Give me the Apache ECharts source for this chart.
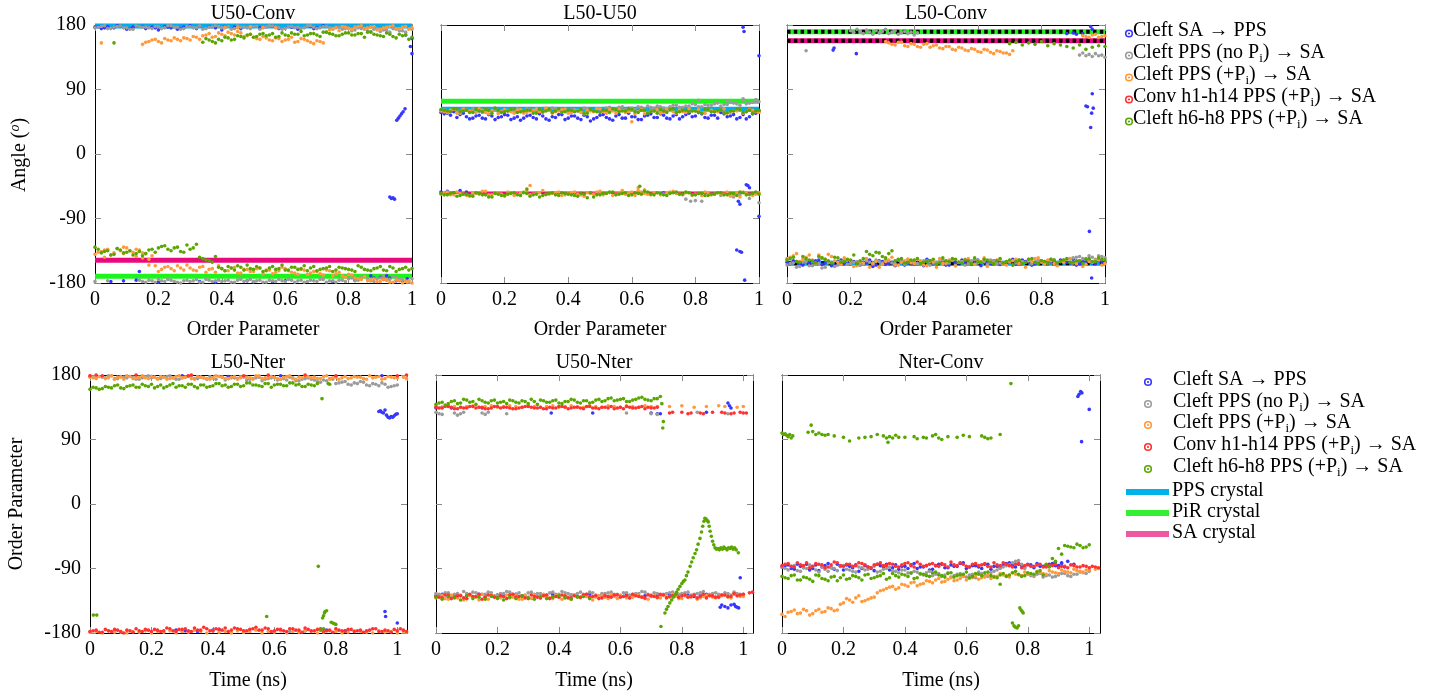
<!DOCTYPE html>
<html><head><meta charset="utf-8">
<script src="https://cdn.jsdelivr.net/npm/echarts@6/dist/echarts.min.js"></script>
<style>html,body{margin:0;padding:0;background:#fff}#c{width:1435px;height:695px}</style>
</head><body><div id="c"></div>
<script>
const N = null;
// sample times (fraction / ns)
const T = [0,0.02,0.04,0.06,0.08,0.1,0.12,0.14,0.16,0.18,0.2,0.22,0.24,0.26,0.28,0.3,0.32,0.34,0.36,0.38,0.4,0.42,0.44,0.46,0.48,0.5,0.52,0.54,0.56,0.58,0.6,0.62,0.64,0.66,0.68,0.7,0.72,0.74,0.76,0.78,0.8,0.82,0.84,0.86,0.88,0.9,0.92,0.94,0.96,0.98,1];
const T2 = [0.01,0.03,0.05,0.07,0.09,0.11,0.13,0.15,0.17,0.19,0.21,0.23,0.25,0.27,0.29,0.31,0.33,0.35,0.37,0.39,0.41,0.43,0.45,0.47,0.49,0.51,0.53,0.55,0.57,0.59,0.61,0.63,0.65,0.67,0.69,0.71,0.73,0.75,0.77,0.79,0.81,0.83,0.85,0.87,0.89,0.91,0.93,0.95,0.97,0.99];

const panelTitles = ['U50-Conv','L50-U50','L50-Conv','L50-Nter','U50-Nter','Nter-Conv'];
const xTickLabels = ['0','0.2','0.4','0.6','0.8','1'];
const legendTexts = ['{a|Cleft SA → PPS}','{a|Cleft PPS (no P}{s|i}{a|) → SA}','{a|Cleft PPS (+P}{s|i}{a|) → SA}','{a|Conv h1-h14 PPS (+P}{s|i}{a|) → SA}','{a|Cleft h6-h8 PPS (+P}{s|i}{a|) → SA}'];
const crystalNames = ['PPS crystal','PiR crystal','SA crystal'];

// ---------- Panel 1: U50-Conv ----------
const p1BlueTop = [177,175,178,176,179,174,177,178,175,177,173,178,176,174,177,179,175,N,178,176,173,N,177,175,N,178,176,N,179,175,N,177,174,N,178,176,179,N,N,N,N,N,N,N,N,N,N,N,N,166,161];
const p1BlueX = [[0.952,47],[0.957,50],[0.962,53],[0.967,56],[0.972,59],[0.978,63],[0.93,-60],[0.935,-62],[0.94,-61],[0.945,-63],[1.0,140],[0.995,150],[0.05,-178],[0.09,-177],[0.13,-176],[0.2,-179],[0.33,-178],[0.38,-179],[0.48,-177],[0.5,-179],[0.56,-178],[0.6,-177],[0.75,-178],[0.82,-176],[0.87,-170],[0.88,-173],[0.9,-172],[0.91,-175],[0.92,-170],[0.93,-173],[0.95,-177],[0.97,-178],[0.985,-174],[0.14,-164],[0.01,178],[0.03,176],[0.07,179],[0.11,175],[0.15,178],[0.19,176],[0.23,177],[0.27,175],[0.41,178],[0.53,177],[0.61,178],[0.69,175]];
const p1GrayTop = [176,178,175,177,179,176,174,178,177,175,178,176,179,177,175,178,176,174,177,179,176,178,175,177,176,178,174,177,179,176,175,178,177,176,179,175,178,176,177,174,176,173,175,172,174,171,173,175,172,170,174];
const p1GrayTop2 = [177,179,175,178,176,174,179,177,176,178, 175,179,177,174,178,176,179,175,177,178, 176,174,179,177,175,178,176,179,177,174, 178,176,175,179,177,176,178,174,177,175, 172,176,174,171,175,173,170,174,172,175];
const p1GrayBot = [-178,N,-177,N,N,N,N,-176,-179,-177,-175,-178,-176,-179,-177,-178,-175,-179,-176,-177,-178,-176,-179,-175,-177,-178,-176,-179,-177,-175,-178,-176,-177,-179,-176,-178,-175,-177,-179,-176,-174,-177,-172,-175,-178,-173,-176,-171,-175,-177,-174];
const p1GrayBot2 = [N,N,N,N,N,N,N,-178,-176,-179, -177,-175,-178,-180,-176,-177,-179,-175,-178,-176, -177,-179,-176,-178,-175,-177,-179,-176,-178,-177, -175,-179,-176,-178,-177,-175,-179,-177,-176,-178, -173,-176,-171,-177,-174,-170,-175,-172,-176,-178];
const p1OrangeTop = [N,155,N,N,N,N,N,N,156,159,157,161,158,160,162,159,163,165,168,164,167,170,166,169,165,163,160,162,158,161,159,163,157,160,156,158,155,173,176,178,175,177,179,176,178,174,177,179,175,178,176];
const p1OrangeTop2 = [N,N,N,N,N,N,N,153,157,160, 155,159,162,158,161,164,160,166,163,169, 165,168,171,164,167,161,164,159,162,157, 160,156,161,158,154,157,170,175,172,177, 174,178,175,177,173,176,178,175,177,174];
const p1OrangeBot = [-140,-136,-133,-138,-135,-131,-137,-134,-139,-142,-164,-158,-160,-156,-162,-159,-163,-157,-161,-165,-160,-163,-158,-166,-161,-164,-159,-162,-167,-163,-160,-165,-168,-162,-166,-164,-169,-163,-167,-170,-168,-173,-175,-177,-174,-178,-176,-179,-177,-178,-180];
const p1OrangeBot2 = [-137,-134,-141,-132,-139,-135,-143,-138,-147,-156, -161,-157,-163,-159,-155,-162,-158,-165,-160,-156, -163,-159,-166,-161,-164,-160,-167,-162,-165,-158, -163,-166,-161,-168,-164,-167,-162,-170,-165,-172, -169,-174,-171,-176,-178,-175,-179,-176,-180,-177];
const p1OrangeX = [[0.41,177],[0.45,176],[0.49,178],[0.53,177],[0.57,176],[0.15,-145],[0.17,-155],[0.03,-144],[0.09,-130],[0.13,-133]];
const p1GreenTop = [N,N,N,155,N,N,N,N,N,N,N,N,N,N,N,N,N,156,159,155,158,162,160,164,166,163,167,165,168,164,166,169,167,165,168,166,170,168,165,167,169,166,168,170,167,165,169,164,167,166,163];
const p1GreenTop2 = [N,N,N,N,N,N,N,N,N,N, N,N,N,N,N,N,N,161,157,160, 163,159,165,162,167,164,168,166,163,169, 165,167,171,166,168,164,170,167,165,169, 166,168,163,170,166,164,167,162,165,160];
const p1GreenBot = [-130,-138,-135,-140,-134,-137,-141,-136,-139,-133,-131,-128,-135,-130,-137,-133,-126,-146,-149,-143,-160,-157,-162,-158,-155,-161,-159,-163,-157,-160,-162,-158,-161,-156,-159,-163,-160,-157,-162,-159,-161,-164,-158,-162,-160,-157,-163,-159,-161,-158,-160];
const p1GreenBot2 = [-133,-136,-141,-132,-138,-135,-139,-142,-134,-137, -129,-133,-131,-136,-127,-131,-144,-148,-151,-158, -163,-159,-156,-162,-160,-157,-164,-159,-161,-155, -162,-158,-160,-163,-157,-161,-159,-164,-158,-160, -162,-156,-161,-163,-159,-162,-157,-164,-160,-162];
const p1Crystals = [178.5, -170.6, -148.3]; // PPS, PiR, SA

// ---------- Panel 2: L50-U50 ----------
const p2BlueUp = [58,57,59,55,52,50,54,49,53,51,55,48,52,50,54,49,53,47,51,55,50,53,48,52,49,54,51,47,55,50,52,48,53,56,51,54,49,55,52,57,53,56,50,54,58,52,55,51,49,56,60];
const p2BlueUp2 = [56,54,51,57,49,53,50,55,48,52, 54,50,47,53,51,56,49,52,55,48, 53,50,54,46,51,55,49,53,50,57, 52,48,54,51,56,50,53,49,55,52, 58,51,54,50,56,53,49,55,52,57];
const p2BlueX = [[0.95,177],[0.953,171],[1.0,137],[0.93,-134],[0.94,-136],[0.945,-137],[0.955,-176],[1.0,-87],[0.935,-66],[0.94,-70],[0.96,-43],[0.965,-44],[0.97,-47],[0,-53],[0.02,-52],[0.04,-54],[0.06,-51],[0.08,-53],[0.5,-55],[0.7,-54]];
const p2GrayUp = [61,60,62,59,61,63,60,62,61,59,62,60,63,61,62,60,59,61,63,62,60,62,61,63,60,62,64,63,65,62,64,66,63,65,67,64,66,68,65,67,69,66,68,70,67,69,71,68,70,72,73];
const p2GrayUp2 = [62,59,61,63,60,62,58,61,63,60, 61,62,59,63,61,60,62,64,61,63, 62,60,64,62,63,61,65,63,66,64, 62,65,67,64,66,63,68,65,67,70, 66,69,68,71,69,72,70,74,71,73];
const p2GrayX = [[0.77,-63],[0.785,-66],[0.8,-65],[0.82,-66],[0.88,-58],[0.92,-60],[0.94,-57],[0.97,-62],[1.0,-68],[0.5,-55],[0.3,-54],[0.1,-56],[0.81,75],[0.9,74],[0.95,77],[0.99,76]];
const p2OrangeUp = [60,58,62,57,61,59,63,58,60,56,62,59,61,57,60,63,58,61,59,62,57,60,58,61,59,63,57,60,62,58,61,59,56,60,62,58,61,57,59,63,60,58,62,59,61,57,60,62,59,61,58];
const p2OrangeUp2 = [59,61,57,62,60,58,61,56,63,59, 60,57,62,58,61,59,64,57,60,62, 58,61,56,60,63,59,62,57,61,59, 56,62,58,60,57,63,59,61,58,60, 62,57,61,59,63,58,60,57,62,59];
const p2OrangeLow = [-56,-53,-57,-55,-58,-54,-56,-52,-57,-55,-59,-54,-56,-53,-57,-55,-51,-56,-54,-58,-55,-53,-57,-54,-56,-52,-55,-58,-54,-56,-53,-51,-55,-57,-54,-56,-53,-55,-57,-54,-56,-58,-54,-56,-55,-53,-57,-60,-55,-58,-54];
const p2OrangeLow2 = [-54,-57,-53,-56,-59,-55,-52,-57,-54,-56, -53,-58,-55,-52,-56,-54,-57,-55,-53,-57, -54,-56,-59,-55,-53,-57,-54,-56,-51,-55, -58,-53,-56,-54,-57,-55,-52,-56,-54,-58, -55,-53,-57,-54,-56,-59,-55,-53,-57,-56];
const p2OrangeX = [[0.28,-44],[0.62,-47],[0.64,-50],[0.6,45]];
const p2GreenUp = [62,60,63,59,61,58,60,62,57,61,59,62,58,60,61,57,59,62,60,58,61,59,62,57,60,58,61,63,59,60,62,58,61,59,57,60,62,58,61,59,60,57,62,59,61,58,60,62,59,57,61];
const p2GreenUp2 = [61,59,63,60,58,62,59,61,64,58, 60,63,59,61,57,62,60,58,63,59, 61,60,57,62,59,61,58,62,60,63, 59,61,57,60,62,58,63,59,61,60, 58,62,59,61,57,60,63,58,61,60];
const p2GreenLow = [-55,-57,-54,-58,-56,-59,-55,-57,-60,-56,-58,-55,-57,-54,-59,-56,-58,-55,-57,-54,-56,-58,-55,-61,-60,-57,-55,-53,-56,-54,-57,-55,-52,-56,-54,-57,-55,-53,-56,-54,-57,-55,-58,-56,-54,-57,-55,-53,-57,-55,-56];
const p2GreenLow2 = [-57,-55,-59,-56,-58,-54,-57,-60,-55,-58, -56,-54,-58,-55,-57,-60,-56,-54,-58,-55, -57,-59,-56,-54,-57,-55,-53,-57,-55,-58, -54,-56,-53,-57,-55,-58,-54,-56,-53,-57, -55,-58,-56,-54,-57,-55,-58,-54,-56,-53];
const p2GreenX = [[0.625,-45],[0.27,-49]];
const p2Crystals = [62.4, 73.5, -54];

// ---------- Panel 3: L50-Conv ----------
const p3BlueBot = [-151,-149,-153,-150,-155,-148,-152,-156,-150,-153,-149,-154,-151,-148,-155,-150,-153,-156,-149,-152,-154,-150,-147,-153,-151,-155,-149,-152,-150,-154,-148,-151,-153,-149,-152,-150,-154,-148,-151,-153,-149,-152,-150,-148,-151,-147,-153,-150,-152,-149,-151];
const p3BlueBot2 = [-153,-150,-155,-152,-149,-154,-151,-156,-148,-153, -150,-155,-152,-157,-149,-154,-151,-148,-155,-150, -153,-156,-149,-152,-150,-155,-151,-148,-153,-150, -156,-152,-149,-154,-151,-147,-153,-150,-155,-149, -152,-150,-154,-149,-152,-155,-150,-148,-153,-150];
const p3BlueX = [[0.145,145],[0.148,148],[0.218,140],[0.88,168],[0.9,169],[0.91,167],[0.93,168],[0.955,178],[0.96,174],[0.94,67],[0.945,66],[0.96,84],[0.963,64],[0.958,57],[0.955,37],[0.951,-108],[0.958,-173]];
const p3GrayX = [[0.06,144],[0.2,172],[0.21,170],[0.22,174],[0.23,171],[0.24,168],[0.25,173],[0.26,170],[0.27,167],[0.28,172],[0.29,169],[0.3,171],[0.31,174],[0.32,168],[0.33,170],[0.34,172],[0.35,167],[0.36,169],[0.37,171],[0.38,168],[0.39,170],[0.4,166],[0.41,169],[0.92,138],[0.93,141],[0.94,137],[0.95,139],[0.96,136],[0.97,140],[0.98,137],[0.99,138],[1.0,135]];
const p3GrayBot = [-155,-152,-157,-150,-156,-153,-158,-151,-155,-149,-153,-150,-154,-151,-148,-152,-149,-153,-150,-147,-151,-154,-149,-152,-150,-153,-148,-151,-155,-149,-152,-150,-148,-153,-151,-149,-152,-150,-147,-151,-149,-152,-148,-150,-147,-145,-143,-146,-144,-142,-145];
const p3GrayBot2 = [-153,-158,-151,-156,-154,-159,-152,-157,-150,-154, -151,-155,-149,-153,-150,-147,-152,-148,-154,-150, -153,-149,-155,-151,-148,-152,-156,-150,-153,-147, -151,-154,-149,-152,-150,-155,-148,-151,-153,-149, -150,-147,-151,-148,-146,-144,-146,-142,-147,-143];
const p3OrangeTop = [N,N,N,N,N,N,N,N,N,N,N,N,N,N,N,N,155,152,156,150,153,149,154,151,148,150,146,149,145,147,143,146,142,144,141,139,N,N,N,N,N,N,N,N,N,N,N,164,166,163,165];
const p3OrangeTop2 = [N,N,N,N,N,N,N,N,N,N, N,N,N,N,N,157,153,156,151,154, 150,153,149,152,147,150,145,148,144,146, 142,145,140,143,141,144,N,N,N,N, N,N,N,N,N,N,165,163,167,164];
const p3OrangeBot = [-146,-142,-150,-144,-148,-141,-147,-143,-151,-145,-149,-156,-152,-158,-150,-154,-148,-155,-151,-147,-153,-149,-156,-150,-146,-152,-148,-151,-147,-153,-149,-145,-151,-148,-154,-150,-147,-152,-149,-146,-151,-148,-153,-150,-147,-152,-149,-154,-151,-148,-153];
const p3OrangeBot2 = [-144,-139,-147,-141,-152,-145,-140,-149,-154,-148, -157,-151,-146,-153,-158,-150,-144,-155,-149,-152, -147,-155,-150,-158,-153,-148,-156,-151,-146,-154, -150,-157,-152,-147,-155,-149,-153,-158,-150,-145, -154,-149,-156,-151,-146,-153,-157,-150,-148,-155];
const p3GreenTop = [N,N,N,N,N,N,N,N,N,N,N,N,N,N,N,N,N,N,N,N,N,N,N,N,N,N,N,N,N,N,N,N,N,N,N,154,156,152,155,153,157,151,154,152,150,148,152,146,149,151,150];
const p3GreenBot = [-148,-144,-151,-146,-149,-143,-147,-152,-145,-150,-148,-153,-146,-140,-137,-143,-139,-149,-146,-151,-148,-153,-150,-147,-152,-149,-146,-151,-148,-153,-150,-147,-151,-149,-152,-148,-150,-153,-147,-151,-149,-152,-148,-150,-146,-151,-149,-147,-150,-145,-148];
const p3GreenBot2 = [-146,-150,-143,-148,-152,-145,-149,-144,-151,-147, -141,-149,-136,-142,-138,-145,-135,-147,-152,-148, -146,-151,-149,-154,-145,-150,-147,-152,-149,-145, -151,-148,-153,-146,-150,-155,-148,-151,-146,-153, -150,-147,-152,-148,-151,-149,-153,-146,-150,-147];
const p3Crystals = [-152.5, 170.7, 158];

// ---------- Panel 4: L50-Nter ----------
const p4BlueX = [[0.3,179],[0.45,178],[0.62,179],[0.8,178],[0.95,179],[0.2,178],[0.94,129],[0.945,130],[0.95,128],[0.955,127],[0.96,131],[0.965,124],[0.97,121],[0.975,120],[0.98,122],[0.985,121],[0.99,123],[0.995,125],[1.0,126],[0.96,-150],[0.962,-157],[1.0,-166],[0.28,-176],[0.31,-177],[0.4,-176],[0.42,-175],[0.6,-178],[0.7,-177],[0.77,-176],[0.83,-177],[0.9,-178],[0.35,-178]];
const p4GrayTop = [178,176,177,179,175,178,176,177,174,178,176,175,177,179,174,176,178,175,177,174,176,178,173,176,175,177,174,176,172,175,177,174,173,176,172,175,174,171,173,175,168,170,167,169,171,166,168,165,167,164,166];
const p4GrayTop2 = [177,178,176,179,175,177,178,174,176,179, 177,175,178,176,174,177,179,175,176,178, 174,177,175,176,178,173,175,177,174,176, 173,175,177,172,174,176,173,170,172,174, 169,171,166,168,170,165,167,169,163,165];
const p4GrayX = [[0.1,-179],[0.3,-178],[0.5,-179],[0.65,-178]];
const p4OrangeTop = [177,175,178,176,174,177,179,175,177,176,178,174,177,175,178,176,179,174,177,175,176,178,175,177,174,178,176,179,175,177,176,174,178,175,177,179,176,175,178,174,177,176,175,178,177,174,176,178,175,177,176];
const p4OrangeTop2 = [176,178,175,179,177,174,178,176,179,175, 177,178,174,176,179,177,175,178,176,174, 179,177,175,178,176,177,174,179,176,178, 175,177,179,174,176,178,177,175,179,176, 174,178,176,177,175,179,177,174,178,176];
const p4OrangeBot = [-179,-178,-180,-177,-179,-178,-180,-178,-179,-177,-180,-178,-179,-177,-180,-178,-179,-176,-178,-180,-177,-179,-178,-180,-177,-179,-178,-176,-180,-178,-179,-177,-180,-178,-179,-177,-178,-180,-179,-177,-178,-180,-179,-177,-178,-179,-180,-177,-179,-178,-180];
const p4OrangeX = [[1.02,177],[1.03,175],[1.02,-178],[1.03,-179]];
const p4RedBot = [-178,-176,-179,-177,-175,-178,-176,-179,-177,-175,-178,-176,-177,-174,-178,-175,-177,-173,-176,-174,-177,-175,-173,-176,-174,-177,-175,-172,-176,-174,-177,-175,-178,-174,-176,-173,-177,-175,-178,-176,-174,-177,-175,-178,-176,-177,-174,-178,-176,-179,-177];
const p4RedBot2 = [-177,-179,-175,-178,-176,-180,-177,-174,-178,-176, -175,-178,-173,-177,-175,-174,-178,-176,-172,-177, -174,-176,-178,-173,-175,-177,-174,-176,-173,-178, -175,-177,-174,-176,-179,-175,-177,-174,-177,-179, -176,-178,-175,-177,-179,-176,-174,-178,-177,-175];
const p4RedX = [[1.02,-176],[1.03,-178],[1.01,-174],[0.0,179],[0.02,180],[0.04,179],[0.32,179],[0.33,180],[0.5,179],[0.58,180],[0.8,179],[1.0,179],[1.03,180],[0.15,180],[0.7,180]];
const p4GreenTop = [160,162,161,163,165,162,164,166,163,165,167,164,162,166,163,165,167,164,166,163,165,168,166,164,167,165,169,166,164,168,166,167,165,169,167,164,166,168,N,N,N,N,N,N,N,N,N,N,N,N,N];
const p4GreenTop2 = [163,160,164,162,166,161,165,163,167,164, 162,166,164,168,165,163,167,162,166,164, 168,165,163,167,164,169,166,165,168,163, 167,165,169,166,164,167,165,N,N,N, N,N,N,N,N,N,N,N,N,N];
const p4GreenX = [[0.775,168],[0.78,167],[0.755,147],[0.743,-87],[0.011,-155],[0.022,-155],[0.575,-157],[0.757,-159],[0.76,-156],[0.763,-152],[0.765,-150],[0.77,-149],[0.785,-165],[0.79,-166],[0.795,-167],[0.8,-168],[0.75,-176],[0.76,-174]];

// ---------- Panel 5: U50-Nter ----------
const p5BlueBot = [-128,-126,-129,-127,N,-128,N,-126,-129,N,-127,-128,N,-126,-129,N,-127,N,-128,-126,N,-129,-127,N,-128,-126,N,-127,-129,-128,N,-126,-127,N,-128,-129,-127,N,-126,-128,N,-127,-129,-128,-126,N,-127,-143,-141,-144,N];
const p5BlueX = [[0.93,-141],[0.95,-145],[0.97,-140],[0.975,-143],[0.985,-145],[0.99,-103],[0.925,-144],[0.0,134],[0.02,135],[0.05,134],[0.1,135],[0.15,134],[0.375,127],[0.51,127],[0.7,127],[0.72,126],[0.73,126],[0.88,128],[0.95,141],[0.955,137],[0.96,134]];
const p5GrayBot = [-125,-127,-124,-126,-128,-125,-123,-127,-126,-124,-127,-125,-123,-126,-128,-124,-126,-125,-127,-123,-126,-124,-127,-125,-126,-123,-127,-125,-124,-126,-128,-124,-126,-125,-123,-127,-125,-126,-124,-127,-125,-123,-126,-124,-127,-125,-126,-124,-127,-125,-126];
const p5GrayBot2 = [-126,-124,-128,-125,-122,-127,-124,-126,-123,-128, -125,-122,-126,-124,-127,-123,-125,-128,-124,-126, -122,-125,-127,-123,-126,-124,-128,-125,-123,-126, -124,-127,-125,-122,-126,-124,-128,-125,-123,-126, -124,-127,-125,-122,-126,-124,-127,-125,-123,-126];
const p5GrayX = [[0.0,128],[0.01,126],[0.02,125],[0.06,127],[0.07,124],[0.08,126],[0.09,128],[0.15,127],[0.16,125],[0.17,128],[0.23,126],[0.62,127],[0.7,126],[0.72,125],[0.95,126],[0.85,128]];
const p5OrangeTop = [136,135,137,136,135,136,137,135,136,137,135,136,137,136,135,137,136,135,136,137,135,136,137,136,135,137,136,135,137,136,135,137,136,135,137,136,136,N,136,N,137,N,135,N,136,N,137,136,N,135,136];
const p5OrangeBot = [-131,-128,-133,-130,-127,-132,-129,-134,-130,-127,-132,-129,-131,-128,-133,-130,-127,-131,-129,-132,-128,-130,-133,-129,-127,-131,-130,-128,-132,-129,-127,-131,-130,-128,-132,-129,-131,-127,-130,-128,-132,-129,-127,-131,-128,-130,-129,-127,-131,-128,-129];
const p5OrangeBot2 = [-129,-132,-127,-131,-134,-128,-130,-126,-133,-129, -131,-127,-130,-133,-128,-132,-129,-126,-131,-128, -133,-130,-127,-131,-129,-134,-128,-130,-126,-132, -129,-131,-127,-130,-133,-128,-131,-129,-126,-132, -128,-130,-133,-129,-127,-131,-128,-130,-126,-129];
const p5RedTop = [135,134,136,133,135,134,136,135,133,134,136,135,134,133,135,136,134,135,133,134,136,135,134,135,133,136,134,135,134,133,135,136,134,135,133,134,135,N,127,N,128,126,N,127,N,128,N,127,126,N,127];
const p5RedTop2 = [134,136,135,133,134,136,134,135,133,136, 134,135,133,134,136,135,134,133,135,134, 136,133,135,134,136,134,133,135,136,134, 133,135,134,136,135,134,N,N,128,N, N,127,N,126,N,N,128,N,127,N];
const p5RedBot = [-129,-131,-127,-130,-128,-132,-129,-126,-130,-128,-131,-129,-127,-130,-128,-132,-129,-131,-127,-129,-130,-128,-131,-129,-127,-130,-128,-131,-129,-127,-130,-128,-126,-129,-131,-128,-130,-127,-129,-126,-128,-130,-127,-129,-131,-128,-130,-127,-129,-128,-126];
const p5RedBot2 = [-130,-127,-132,-128,-131,-126,-129,-133,-127,-130, -128,-132,-126,-129,-131,-127,-130,-128,-132,-129, -127,-131,-128,-130,-126,-129,-132,-128,-130,-127, -129,-131,-128,-130,-127,-129,-126,-131,-128,-130, -127,-129,-131,-126,-128,-130,-127,-129,-125,-127];
const p5RedX = [[1.02,-124],[1.03,-123],[1.01,127],[0.99,128]];
const p5GreenTop = [139,142,140,144,141,145,143,146,142,144,141,143,145,142,144,140,143,145,142,144,141,143,146,142,144,141,145,143,147,144,146,143,145,148,146,144,147,N,N,N,N,N,N,N,N,N,N,N,N,N,N];
const p5GreenTop2 = [141,138,143,140,146,142,139,144,141,145, 142,140,144,141,143,146,139,144,142,145, 140,143,145,141,144,142,146,144,148,145, 147,143,146,149,145,147,N,N,N,N, N,N,N,N,N,N,N,N,N,N];
const p5GreenBot = [-130,-133,-129,-131,-134,-128,-132,-130,-133,-129,-131,-134,-130,-132,-128,-131,-133,-129,-132,-130,-128,-131,-133,-130,-129,-132,N,N,N,N,N,N,N,N,N,N,N,N,N,N,N,N,N,N,N,N,N,N,N,N,N];
const p5GreenX = [[0.73,150],[0.735,140],[0.74,115],[0.738,106],[0.732,-171],[0.745,-152],[0.75,-147],[0.755,-143],[0.761,-138],[0.767,-134],[0.772,-130],[0.778,-127],[0.783,-123],[0.788,-119],[0.794,-115],[0.8,-111],[0.805,-108],[0.81,-106],[0.815,-100],[0.82,-95],[0.827,-87],[0.832,-81],[0.837,-75],[0.843,-69],[0.848,-64],[0.853,-56],[0.859,-48],[0.864,-39],[0.868,-31],[0.872,-24],[0.875,-20],[0.879,-21],[0.883,-23],[0.886,-25],[0.889,-31],[0.892,-38],[0.896,-45],[0.9,-52],[0.904,-57],[0.908,-61],[0.913,-63],[0.918,-62],[0.922,-64],[0.927,-61],[0.932,-63],[0.937,-60],[0.942,-62],[0.947,-64],[0.952,-61],[0.957,-62],[0.962,-60],[0.967,-63],[0.972,-61],[0.977,-64],[0.984,-68]];

// ---------- Panel 6: Nter-Conv ----------
const p6BlueMid = [-88,-85,-91,-87,-84,-90,-93,-86,-89,-84,-92,-87,-85,-90,-88,-93,-86,-84,-89,-91,-87,-85,-90,-88,-92,-86,-84,-89,-87,-83,-90,-86,-88,-84,-91,-87,-85,-82,-88,-86,-84,-89,-87,-85,-83,-86,-88,N,N,N,N];
const p6BlueMid2 = [-86,-90,-84,-89,-92,-85,-88,-83,-91,-87, -85,-89,-94,-86,-90,-84,-88,-92,-85,-87, -90,-83,-88,-86,-91,-84,-89,-85,-87,-82, -88,-86,-90,-84,-87,-89,-83,-86,-84,-88, -85,-83,-87,-84,-86,-82,N,N,N,N];
const p6BlueX = [[0.963,150],[0.967,153],[0.972,157],[0.976,155],[1.0,132],[0.975,87],[0.89,-81],[0.91,-83],[0.93,-80],[0.95,-84]];
const p6GrayMid = [-88,-92,-86,-94,-90,-87,-95,-91,-89,-93,-86,-92,-95,-89,-91,-87,-94,-90,-93,-96,-92,-97,-95,-99,-94,-98,-101,-96,-100,-97,-102,-98,-95,-100,-96,-92,-88,-85,-80,-84,-98,-101,-97,-100,-102,-99,-97,-101,-98,-96,-94];
const p6GrayMid2 = [-90,-87,-93,-89,-85,-92,-88,-94,-90,-87, -91,-94,-88,-92,-89,-95,-91,-88,-94,-92, -96,-94,-98,-96,-100,-97,-99,-102,-98,-101, -99,-103,-97,-101,-94,-90,-86,-82,-79,-90, -100,-98,-102,-99,-101,-97,-100,-98,-95,-97];
const p6Orange = [-154,-151,-148,-152,-149,-153,-147,-150,-146,-148,-138,-134,-131,-136,-133,-130,-121,-118,-115,-117,-113,-110,-114,-111,-108,-106,-109,-105,-107,-104,-106,-103,-105,-102,-104,-101,-99,-102,-98,-100,-97,-99,-96,-98,-95,-97,-94,-96,-93,-95,-92];
const p6Orange2 = [-157,-150,-153,-147,-155,-149,-151,-145,-149,-140, -132,-137,-128,-135,-131,-124,-120,-116,-119,-112, -115,-109,-112,-107,-110,-104,-108,-103,-106,-101, -104,-100,-103,-99,-101,-97,-100,-96,-99,-95, -98,-94,-97,-93,-96,-92,-95,-91,-94,-92];
const p6OrangeX = [[1.02,-91],[1.03,-90]];
const p6RedMid = [-86,-83,-88,-85,-82,-87,-84,-89,-85,-82,-87,-84,-86,-83,-88,-85,-82,-86,-84,-88,-83,-86,-81,-87,-84,-86,-83,-88,-85,-82,-87,-84,-86,-83,-88,-85,-82,-86,-84,-89,-85,-87,-84,-88,-86,-89,-87,-85,-88,-86,-89];
const p6RedMid2 = [-84,-87,-82,-86,-89,-83,-85,-88,-81,-86, -84,-87,-82,-85,-89,-84,-86,-83,-87,-85, -82,-88,-84,-86,-83,-87,-85,-81,-86,-84, -88,-83,-85,-87,-82,-86,-84,-88,-83,-86, -87,-85,-88,-86,-84,-87,-89,-86,-88,-87];
const p6RedX = [[1.02,-88],[1.03,-89],[1.01,-87]];
const p6GreenBot = [-101,-104,-99,-106,-103,-108,-100,-105,-102,-107,-99,-104,-101,-106,-98,-103,-100,-105,-97,-102,-99,-96,-103,-98,-101,-95,-100,-97,-102,-99,-95,-101,-98,-96,-100,-103,-97,-99,-94,-101,-96,-98,-93,-84,-76,-62,-58,-60,-56,-61,-57];
const p6GreenBot2 = [-103,-100,-106,-102,-105,-99,-104,-107,-101,-103, -105,-100,-103,-99,-104,-101,-97,-103,-100,-98, -101,-104,-97,-100,-96,-99,-102,-96,-100,-98, -103,-97,-100,-95,-102,-99,-101,-96,-98,-100, -97,-95,-99,-88,-80,-70,-59,-61,-58,-60];
const p6GreenX = [[0.0,99],[0.005,97],[0.01,98],[0.015,96],[0.02,94],[0.025,97],[0.03,92],[0.035,95],[0.085,100],[0.095,110],[0.1,101],[0.11,97],[0.12,99],[0.13,97],[0.14,96],[0.15,97],[0.17,95],[0.2,93],[0.22,88],[0.25,92],[0.27,93],[0.29,94],[0.31,97],[0.33,95],[0.34,92],[0.345,86],[0.35,94],[0.36,92],[0.37,96],[0.38,93],[0.4,93],[0.43,94],[0.44,91],[0.46,93],[0.47,92],[0.49,95],[0.5,97],[0.51,92],[0.52,90],[0.54,94],[0.57,93],[0.59,96],[0.61,94],[0.65,95],[0.66,93],[0.67,91],[0.68,92],[0.71,97],[0.745,168],[0.75,-166],[0.755,-170],[0.76,-172],[0.765,-173],[0.77,-170],[0.774,-145],[0.778,-148],[0.782,-150],[0.785,-152],[0.71,-112]];

// ---------- assembly ----------
function pts(ys, t) { const o = []; for (let i = 0; i < ys.length && i < t.length; i++) { if (ys[i] !== null) o.push([t[i], ys[i]]); } return o; }
function cat() { return [].concat.apply([], arguments); }

const panelSeries = [
  { blue: cat(pts(p1BlueTop,T), p1BlueX),
    gray: cat(pts(p1GrayTop,T), pts(p1GrayTop2,T2), pts(p1GrayBot,T), pts(p1GrayBot2,T2)),
    orange: cat(pts(p1OrangeTop,T), pts(p1OrangeTop2,T2), pts(p1OrangeBot,T), pts(p1OrangeBot2,T2), p1OrangeX), red: [],
    green: cat(pts(p1GreenTop,T), pts(p1GreenTop2,T2), pts(p1GreenBot,T), pts(p1GreenBot2,T2)) },
  { blue: cat(pts(p2BlueUp,T), pts(p2BlueUp2,T2), p2BlueX),
    gray: cat(pts(p2GrayUp,T), pts(p2GrayUp2,T2), p2GrayX),
    orange: cat(pts(p2OrangeUp,T), pts(p2OrangeUp2,T2), pts(p2OrangeLow,T), pts(p2OrangeLow2,T2), p2OrangeX), red: [],
    green: cat(pts(p2GreenUp,T), pts(p2GreenUp2,T2), pts(p2GreenLow,T), pts(p2GreenLow2,T2), p2GreenX) },
  { blue: cat(pts(p3BlueBot,T), pts(p3BlueBot2,T2), p3BlueX),
    gray: cat(pts(p3GrayBot,T), pts(p3GrayBot2,T2), p3GrayX),
    orange: cat(pts(p3OrangeTop,T), pts(p3OrangeTop2,T2), pts(p3OrangeBot,T), pts(p3OrangeBot2,T2)), red: [],
    green: cat(pts(p3GreenTop,T), pts(p3GreenBot,T), pts(p3GreenBot2,T2)) },
  { blue: p4BlueX,
    gray: cat(pts(p4GrayTop,T), pts(p4GrayTop2,T2), p4GrayX),
    orange: cat(pts(p4OrangeTop,T), pts(p4OrangeTop2,T2), pts(p4OrangeBot,T), p4OrangeX),
    red: cat(pts(p4RedBot,T), pts(p4RedBot2,T2), p4RedX),
    green: cat(pts(p4GreenTop,T), pts(p4GreenTop2,T2), p4GreenX) },
  { blue: cat(pts(p5BlueBot,T), p5BlueX),
    gray: cat(pts(p5GrayBot,T), pts(p5GrayBot2,T2), p5GrayX),
    orange: cat(pts(p5OrangeTop,T), pts(p5OrangeBot,T), pts(p5OrangeBot2,T2)),
    red: cat(pts(p5RedTop,T), pts(p5RedTop2,T2), pts(p5RedBot,T), pts(p5RedBot2,T2), p5RedX),
    green: cat(pts(p5GreenTop,T), pts(p5GreenTop2,T2), pts(p5GreenBot,T), p5GreenX) },
  { blue: cat(pts(p6BlueMid,T), pts(p6BlueMid2,T2), p6BlueX),
    gray: cat(pts(p6GrayMid,T), pts(p6GrayMid2,T2)),
    orange: cat(pts(p6Orange,T), pts(p6Orange2,T2), p6OrangeX),
    red: cat(pts(p6RedMid,T), pts(p6RedMid2,T2), p6RedX),
    green: cat(pts(p6GreenBot,T), pts(p6GreenBot2,T2), p6GreenX) }
];
const panelCrystals = [p1Crystals, p2Crystals, p3Crystals, null, null, null];

const FONT = '"Liberation Serif", "Times New Roman", serif';
const colors = { blue: '#3636ff', gray: '#9b9b9b', orange: '#ff9a3c', red: '#ff3131', green: '#5aa600' };
const order = ['blue','gray','orange','red','green'];
const crystalColors = ['#00aeef', '#1cf51c', '#e8097f'];
const crystalLegendColors = ['#00b2ea', '#33f033', '#ee5aa0'];
const crystalWidths = [[5,5,5],[5,5,2.5],[5,5,5]];

const layout = [
  { left: 95, top: 25, width: 317, height: 258, xmax: 1, yLab: true },
  { left: 441, top: 25, width: 318, height: 258, xmax: 1, yLab: false },
  { left: 787, top: 25, width: 318, height: 258, xmax: 1, yLab: false },
  { left: 90, top: 375, width: 317, height: 258, xmax: 1.0316, yLab: true },
  { left: 436, top: 375, width: 317, height: 258, xmax: 1.0316, yLab: false },
  { left: 782, top: 375, width: 318, height: 258, xmax: 1.035, yLab: false }
];

const grid = [], xAxis = [], yAxis = [], series = [];
const tickStyle = { show: true, inside: true, length: 6, lineStyle: { color: '#8a8a8a', width: 1 } };
const lineStyleAx = { show: true, onZero: false, lineStyle: { color: '#000', width: 1 } };
layout.forEach((L, k) => {
  grid.push({ left: L.left, top: L.top, width: L.width, height: L.height, containLabel: false, outerBoundsMode: 'none', show: false });
  xAxis.push({ type: 'value', gridIndex: k, min: 0, max: L.xmax, interval: 0.2, position: 'bottom',
    axisLine: lineStyleAx, axisTick: tickStyle, splitLine: { show: false },
    axisLabel: { show: true, margin: 7, fontFamily: FONT, fontSize: 20, color: '#000', showMaxLabel: L.xmax === 1, hideOverlap: false,
      formatter: v => { const r = Math.round(v / 0.2); return (Math.abs(v / 0.2 - r) < 1e-6 && xTickLabels[r] !== undefined) ? xTickLabels[r] : ''; } } });
  xAxis.push({ type: 'value', gridIndex: k, min: 0, max: L.xmax, interval: 0.2, position: 'top',
    axisLine: lineStyleAx, axisTick: tickStyle, splitLine: { show: false }, axisLabel: { show: false } });
  yAxis.push({ type: 'value', gridIndex: k, min: -180, max: 180, interval: 90, position: 'left',
    axisLine: lineStyleAx, axisTick: tickStyle, splitLine: { show: false },
    axisLabel: { show: L.yLab, margin: 9, fontFamily: FONT, fontSize: 20, color: '#000', hideOverlap: false } });
  yAxis.push({ type: 'value', gridIndex: k, min: -180, max: 180, interval: 90, position: 'right',
    axisLine: lineStyleAx, axisTick: tickStyle, splitLine: { show: false }, axisLabel: { show: false } });

  const cr = panelCrystals[k];
  if (cr) {
    cr.forEach((v, j) => {
      series.push({ type: 'line', xAxisIndex: 2 * k, yAxisIndex: 2 * k, data: [[0, v], [1, v]], symbol: 'none', silent: true,
        lineStyle: { width: crystalWidths[k][j], color: crystalColors[j] }, z: 2, animation: false });
      if (k === 2) {
        series.push({ type: 'line', xAxisIndex: 2 * k, yAxisIndex: 2 * k, data: [[0, v], [1, v]], symbol: 'none', silent: true,
          lineStyle: { width: 4, color: '#000', type: [3.5, 3.3] }, z: 2, animation: false });
      }
    });
  }
  order.forEach(c => {
    const d = panelSeries[k][c];
    if (d && d.length) series.push({ type: 'scatter', xAxisIndex: 2 * k, yAxisIndex: 2 * k, data: d, symbol: 'circle', symbolSize: 3.6,
      itemStyle: { color: colors[c], opacity: 1 }, silent: true, z: 3, animation: false });
  });
});

// text & legend graphics
const graphic = [];
function gtext(text, x, y, rot) {
  graphic.push({ type: 'text', x: x, y: y, rotation: rot || 0, silent: true,
    style: { text: text, font: '20px ' + FONT, fill: '#000', align: 'center', verticalAlign: 'middle', textAlign: 'center', textVerticalAlign: 'middle' } });
}
const titlePos = [[253, 14], [600, 14], [946, 14], [248, 363], [594, 363], [941, 363]];
panelTitles.forEach((t, i) => gtext(t, titlePos[i][0], titlePos[i][1]));
[[253, 330], [600, 330], [946, 330]].forEach(p => gtext('Order Parameter', p[0], p[1]));
[[248, 681], [594, 681], [941, 681]].forEach(p => gtext('Time (ns)', p[0], p[1]));
gtext('Order Parameter', 17, 504, Math.PI / 2);
const rich = {
  a: { font: '20px ' + FONT, fill: '#000', lineHeight: 24, verticalAlign: 'middle' },
  s: { font: '13px ' + FONT, fill: '#000', lineHeight: 13, verticalAlign: 'bottom' },
  o: { font: 'italic 14px ' + FONT, fill: '#000', lineHeight: 14, verticalAlign: 'top' }
};
graphic.push({ type: 'text', x: 20, y: 155, rotation: Math.PI / 2, silent: true,
  style: { text: '{a|Angle (}{o|o}{a|)}', rich: rich, align: 'center', verticalAlign: 'middle', textAlign: 'center', textVerticalAlign: 'middle' } });

function marker(cx, cy, col) {
  graphic.push({ type: 'circle', shape: { cx: cx, cy: cy, r: 3.3 }, style: { fill: 'none', stroke: col, lineWidth: 1.6 }, silent: true, z: 10 });
  graphic.push({ type: 'circle', shape: { cx: cx, cy: cy, r: 1.1 }, style: { fill: col }, silent: true, z: 10 });
}
const topLegY = [31, 53, 75, 97, 119];
legendTexts.forEach((t, i) => {
  graphic.push({ type: 'text', x: 1133, y: topLegY[i], silent: true, z: 9,
    style: { text: t, rich: rich, align: 'left', verticalAlign: 'middle', textAlign: 'left', textVerticalAlign: 'middle' } });
  marker(1129, topLegY[i] + 2.5, colors[order[i]]);
});
const botLegY = [380, 402, 423, 445, 467];
legendTexts.forEach((t, i) => {
  graphic.push({ type: 'text', x: 1173, y: botLegY[i], silent: true, z: 9,
    style: { text: t, rich: rich, align: 'left', verticalAlign: 'middle', textAlign: 'left', textVerticalAlign: 'middle' } });
  marker(1148, botLegY[i] + 2, colors[order[i]]);
});
const crysLegY = [492, 513, 534];
crystalNames.forEach((t, i) => {
  graphic.push({ type: 'rect', shape: { x: 1126, y: crysLegY[i] - 3, width: 43, height: 6 }, style: { fill: crystalLegendColors[i] }, silent: true });
  graphic.push({ type: 'text', x: 1172, y: crysLegY[i] - 1, silent: true,
    style: { text: t, font: '20px ' + FONT, fill: '#000', align: 'left', verticalAlign: 'middle', textAlign: 'left', textVerticalAlign: 'middle' } });
});

const chart = echarts.init(document.getElementById('c'), null, { renderer: 'canvas' });
chart.setOption({ animation: false, backgroundColor: '#fff', grid: grid, xAxis: xAxis, yAxis: yAxis, series: series, graphic: graphic });
</script></body></html>
